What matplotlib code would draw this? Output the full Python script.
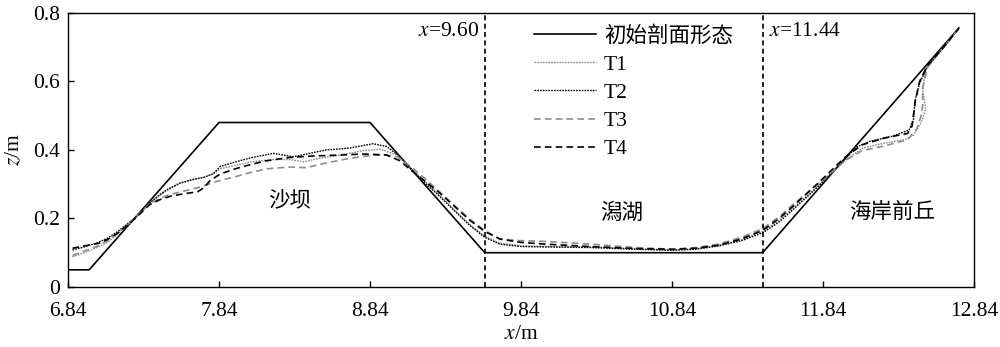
import matplotlib
matplotlib.use("Agg")
import matplotlib.pyplot as plt
from matplotlib.ticker import FuncFormatter

plt.rcParams['font.family'] = ['Liberation Serif', 'Noto Sans CJK SC']
plt.rcParams['mathtext.fontset'] = 'stix'

# 初始剖面
x0 = [6.84, 6.98, 7.84, 8.84, 9.60, 11.44, 12.74]
z0 = [0.05, 0.05, 0.48, 0.48, 0.10, 0.10, 0.756]

# T1
x1 = [6.87, 6.95, 7.04, 7.10, 7.17, 7.28, 7.38, 7.45, 7.50, 7.58, 7.66, 7.74, 7.80, 7.85,
      7.95, 8.05, 8.20, 8.31, 8.40, 8.50, 8.64, 8.80, 8.91, 9.02, 9.10, 9.20, 9.30, 9.40,
      9.50, 9.60, 9.70, 9.84, 10.0, 10.3, 10.6, 10.84, 11.0, 11.15, 11.3, 11.44, 11.55,
      11.64, 11.80, 11.99, 12.10, 12.25, 12.38, 12.44, 12.49, 12.52, 12.50, 12.52, 12.60, 12.74]
z1 = [0.088, 0.10, 0.117, 0.13, 0.155, 0.198, 0.243, 0.268, 0.283, 0.302, 0.313, 0.32, 0.33, 0.345,
      0.355, 0.365, 0.372, 0.372, 0.365, 0.375, 0.385, 0.398, 0.402, 0.385, 0.35, 0.31, 0.268, 0.225,
      0.183, 0.148, 0.128, 0.12, 0.118, 0.117, 0.112, 0.108, 0.112, 0.122, 0.138, 0.162, 0.195,
      0.23, 0.292, 0.37, 0.405, 0.42, 0.43, 0.443, 0.48, 0.52, 0.575, 0.635, 0.68, 0.755]

# T2
x2 = [6.87, 6.95, 7.04, 7.10, 7.17, 7.28, 7.38, 7.45, 7.50, 7.58, 7.66, 7.74, 7.80, 7.85,
      7.95, 8.05, 8.20, 8.33, 8.42, 8.55, 8.70, 8.86, 8.95, 9.04, 9.10, 9.20, 9.30, 9.40,
      9.50, 9.60, 9.70, 9.84, 10.0, 10.3, 10.6, 10.84, 11.0, 11.15, 11.3, 11.44, 11.55,
      11.64, 11.80, 11.99, 12.06, 12.15, 12.30, 12.41, 12.44, 12.45, 12.48, 12.53, 12.64, 12.74]
z2 = [0.108, 0.117, 0.13, 0.142, 0.162, 0.20, 0.245, 0.27, 0.285, 0.303, 0.313, 0.32, 0.33, 0.352,
      0.365, 0.377, 0.39, 0.38, 0.388, 0.40, 0.405, 0.418, 0.41, 0.38, 0.35, 0.305, 0.265, 0.222,
      0.18, 0.145, 0.125, 0.118, 0.117, 0.115, 0.11, 0.107, 0.11, 0.12, 0.135, 0.158, 0.19,
      0.225, 0.29, 0.375, 0.408, 0.425, 0.44, 0.458, 0.49, 0.545, 0.595, 0.642, 0.70, 0.755]

# T3
x3 = [6.87, 6.95, 7.04, 7.10, 7.17, 7.28, 7.38, 7.45, 7.50, 7.61, 7.72, 7.84, 7.95, 8.03,
      8.16, 8.31, 8.42, 8.53, 8.70, 8.86, 8.95, 9.02, 9.10, 9.20, 9.30, 9.40, 9.50, 9.60,
      9.70, 9.84, 10.0, 10.3, 10.6, 10.84, 11.0, 11.15, 11.3, 11.44, 11.55, 11.64, 11.80,
      11.99, 12.10, 12.25, 12.40, 12.46, 12.49, 12.50, 12.50, 12.53, 12.64, 12.74]
z3 = [0.092, 0.105, 0.12, 0.135, 0.158, 0.20, 0.243, 0.258, 0.268, 0.28, 0.292, 0.31, 0.322, 0.332,
      0.345, 0.35, 0.348, 0.36, 0.375, 0.385, 0.385, 0.38, 0.355, 0.318, 0.278, 0.238, 0.198, 0.165,
      0.14, 0.135, 0.133, 0.125, 0.115, 0.11, 0.115, 0.125, 0.145, 0.17, 0.205, 0.24, 0.298,
      0.37, 0.398, 0.412, 0.43, 0.46, 0.50, 0.53, 0.58, 0.64, 0.70, 0.755]

# T4
x4 = [6.87, 6.95, 7.04, 7.10, 7.17, 7.28, 7.38, 7.45, 7.52, 7.61, 7.70, 7.74, 7.78, 7.85,
      7.95, 8.03, 8.15, 8.31, 8.45, 8.64, 8.80, 8.95, 9.04, 9.10, 9.20, 9.30, 9.40, 9.50,
      9.60, 9.70, 9.84, 10.0, 10.3, 10.6, 10.84, 11.0, 11.15, 11.3, 11.44, 11.55, 11.64,
      11.80, 11.99, 12.10, 12.25, 12.40, 12.43, 12.45, 12.48, 12.53, 12.64, 12.74]
z4 = [0.113, 0.12, 0.127, 0.138, 0.157, 0.198, 0.24, 0.255, 0.265, 0.272, 0.278, 0.29, 0.31, 0.33,
      0.345, 0.355, 0.368, 0.378, 0.382, 0.385, 0.388, 0.385, 0.368, 0.345, 0.31, 0.275, 0.235, 0.195,
      0.162, 0.14, 0.13, 0.125, 0.118, 0.112, 0.11, 0.113, 0.122, 0.14, 0.165, 0.20, 0.235,
      0.30, 0.38, 0.415, 0.435, 0.448, 0.47, 0.54, 0.60, 0.645, 0.70, 0.755]

xticks = [6.84, 7.84, 8.84, 9.84, 10.84, 11.84, 12.84]
yticks = [0, 0.2, 0.4, 0.6, 0.8]
x_left, x_right = 9.60, 11.44

gray = '#8c8c8c'
fs = 15.5

fig = plt.figure(figsize=(10, 3.47), dpi=100)
ax = fig.add_axes([0.068, 0.173, 0.906, 0.79])

ax.plot(x0, z0, color='black', lw=1.2, label='初始剖面形态')
ax.plot(x1, z1, color=gray, lw=1.0, dashes=(1.2, 0.8), label='T1')
ax.plot(x2, z2, color='black', lw=1.0, dashes=(1.2, 0.8), label='T2')
ax.plot(x3, z3, color=gray, lw=1.2, dashes=(4, 2.5), label='T3')
ax.plot(x4, z4, color='black', lw=1.2, dashes=(4, 2.5), label='T4')

ax.axvline(x_left, color='black', lw=1.2, dashes=(3, 2))
ax.axvline(x_right, color='black', lw=1.2, dashes=(3, 2))

ax.text(x_left - 0.04, 0.745, r'$x$=9.60', ha='right', va='center', fontsize=fs)
ax.text(x_right + 0.04, 0.745, r'$x$=11.44', ha='left', va='center', fontsize=fs)

ax.text(8.31, 0.25, '沙坝', ha='center', va='center', fontsize=fs)
ax.text(10.51, 0.215, '潟湖', ha='center', va='center', fontsize=fs)
ax.text(12.30, 0.215, '海岸前丘', ha='center', va='center', fontsize=fs)

ax.set_xlim(6.84, 12.84)
ax.set_ylim(0, 0.8)
ax.set_xticks(xticks)
ax.set_yticks(yticks)
ax.xaxis.set_major_formatter(FuncFormatter(lambda v, p: f'{v:.2f}'))
ax.yaxis.set_major_formatter(FuncFormatter(lambda v, p: '0' if v == 0 else f'{v:.1f}'))
ax.tick_params(direction='in', length=4, width=1, labelsize=fs)
ax.tick_params(axis='x', pad=11)
ax.tick_params(axis='y', pad=6)

ax.set_xlabel(r'$x$/m', fontsize=fs, labelpad=3)
ax.set_ylabel(r'$z$/m', fontsize=fs, labelpad=6)

for s in ax.spines.values():
    s.set_linewidth(1.0)

ax.legend(loc='upper left', bbox_to_anchor=(0.5, 1.0), frameon=False, fontsize=fs,
          handlelength=2.9, handletextpad=0.35, labelspacing=0.38, borderaxespad=0.2)

fig.savefig('out.png', dpi=100)
